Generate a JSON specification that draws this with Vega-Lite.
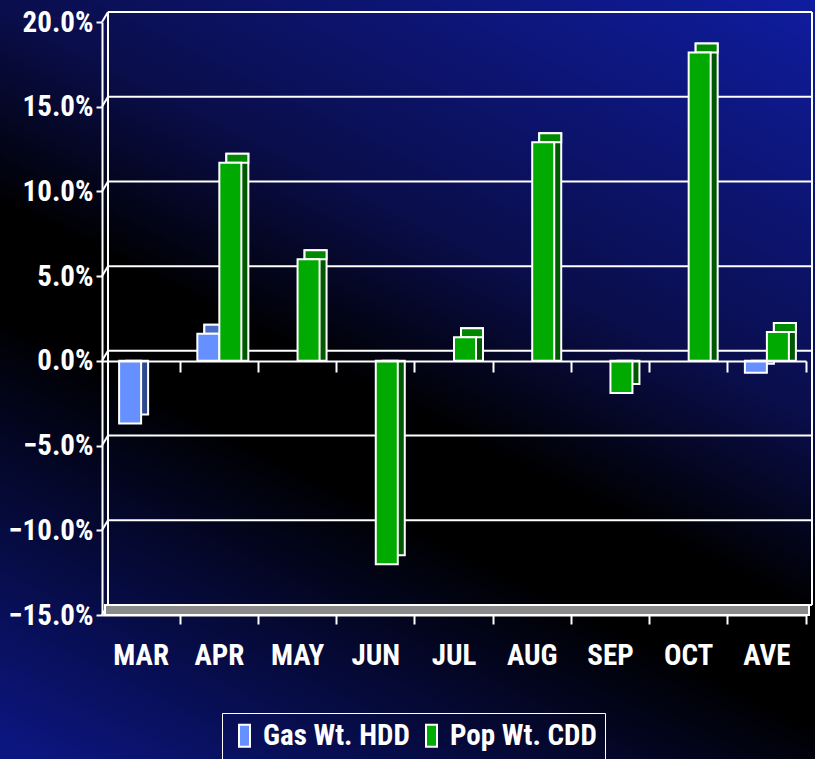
{
  "$schema": "https://vega.github.io/schema/vega-lite/v6.json",
  "width": 815,
  "height": 759,
  "autosize": {"type": "none"},
  "padding": 0,
  "background": "#000000",
  "datasets": {
    "bars": [
      {"month": "MAR", "series": "Gas Wt. HDD", "value": -3.7},
      {"month": "APR", "series": "Gas Wt. HDD", "value": 1.6},
      {"month": "AVE", "series": "Gas Wt. HDD", "value": -0.7},
      {"month": "APR", "series": "Pop Wt. CDD", "value": 11.7},
      {"month": "MAY", "series": "Pop Wt. CDD", "value": 6.0},
      {"month": "JUN", "series": "Pop Wt. CDD", "value": -12.0},
      {"month": "JUL", "series": "Pop Wt. CDD", "value": 1.4},
      {"month": "AUG", "series": "Pop Wt. CDD", "value": 12.9},
      {"month": "SEP", "series": "Pop Wt. CDD", "value": -1.9},
      {"month": "OCT", "series": "Pop Wt. CDD", "value": 18.2},
      {"month": "AVE", "series": "Pop Wt. CDD", "value": 1.7}
    ],
    "grid": [{"v": -15}, {"v": -10}, {"v": -5}, {"v": 0}, {"v": 5}, {"v": 10}, {"v": 15}, {"v": 20}],
    "edges": [{"side": 0}, {"side": 1}]
  },
  "layer": [
    {
      "data": {"values": [{}]},
      "mark": {"type": "rect", "color": {"gradient": "linear", "x1": 0.43, "y1": -0.47, "x2": -0.31, "y2": 0.9, "stops": [{"offset": 0, "color": "#1222b0"}, {"offset": 0.06, "color": "#101ea8"}, {"offset": 0.4, "color": "#0a0e4c"}, {"offset": 0.55, "color": "#000000"}, {"offset": 0.63, "color": "#000000"}, {"offset": 0.95, "color": "#0c1680"}, {"offset": 1, "color": "#0d1888"}]}},
      "encoding": {}
    },
    {
      "data": {"name": "grid"},
      "mark": {"type": "rule", "color": "white", "strokeWidth": 2, "xOffset": 6, "x2Offset": 6, "yOffset": -10},
      "encoding": {
        "x": {"datum": 0, "type": "quantitative", "scale": {"domain": [0, 1], "range": [102, 806]}, "axis": null},
        "x2": {"datum": 1},
        "y": {
          "field": "v", "type": "quantitative",
          "scale": {"domain": [-15, 20], "range": [615, 22], "nice": false, "zero": false},
          "axis": {
            "orient": "left", "offset": -102, "values": [-15, -10, -5, 0, 5, 10, 15, 20],
            "labelExpr": "format(datum.value, '.1f') + '%'", "title": null, "grid": false,
            "domain": true, "domainColor": "white", "domainWidth": 2, "ticks": true, "tickColor": "white", "tickWidth": 2, "tickSize": 6,
            "labelColor": "white", "labelFontSize": 29, "labelFontWeight": "bold",
            "labelFont": "Roboto Condensed, Noto Sans Condensed, Liberation Sans Narrow, Arial Narrow, Liberation Sans, sans-serif",
            "labelPadding": 3, "labelOverlap": false, "zindex": 1
          }
        }
      }
    },
    {
      "data": {"name": "grid"},
      "mark": {"type": "rule", "color": "white", "strokeWidth": 2, "x2Offset": 6, "y2Offset": -10},
      "encoding": {
        "x": {"datum": 0, "type": "quantitative", "scale": {"domain": [0, 1], "range": [102, 806]}, "axis": null},
        "x2": {"datum": 0},
        "y": {"field": "v", "type": "quantitative"},
        "y2": {"field": "v"}
      }
    },
    {
      "data": {"name": "edges"},
      "mark": {"type": "rule", "color": "white", "strokeWidth": 2, "xOffset": 6, "yOffset": -10, "y2Offset": -10},
      "encoding": {
        "x": {"field": "side", "type": "quantitative", "scale": {"domain": [0, 1], "range": [102, 806]}, "axis": null},
        "y": {"datum": -15, "type": "quantitative"},
        "y2": {"datum": 20}
      }
    },
    {
      "data": {"values": [{}]},
      "mark": {"type": "rect", "fill": "#8a8a8a", "stroke": "white", "strokeWidth": 2, "xOffset": 3, "x2Offset": 3, "y2Offset": -10},
      "encoding": {
        "x": {"datum": 0, "type": "quantitative", "scale": {"domain": [0, 1], "range": [102, 806]}, "axis": null},
        "x2": {"datum": 1},
        "y": {"datum": -15, "type": "quantitative"},
        "y2": {"datum": -15}
      }
    },
    {
      "data": {"name": "bars"},
      "transform": [{"filter": "datum.series === 'Gas Wt. HDD'"}],
      "mark": {"type": "bar", "color": "#2d4a8e", "stroke": "white", "strokeWidth": 2, "width": 22, "xOffset": -4, "yOffset": -9, "y2Offset": -9},
      "encoding": {
        "x": {
          "field": "month", "type": "nominal",
          "scale": {"domain": ["MAR", "APR", "MAY", "JUN", "JUL", "AUG", "SEP", "OCT", "AVE"], "range": [102, 806], "paddingInner": 0, "paddingOuter": 0},
          "axis": {"orient": "bottom", "offset": -398, "bandPosition": 1, "labels": false, "domain": true, "domainColor": "white", "domainWidth": 2, "ticks": true, "tickColor": "white", "tickWidth": 2, "tickSize": 11, "title": null, "grid": false, "zindex": 1}
        },
        "y": {"field": "value", "type": "quantitative", "stack": null}
      }
    },
    {
      "data": {"name": "bars"},
      "transform": [{"filter": "datum.series === 'Pop Wt. CDD'"}],
      "mark": {"type": "bar", "color": "#005800", "stroke": "white", "strokeWidth": 2, "width": 22, "xOffset": 18, "yOffset": -9, "y2Offset": -9},
      "encoding": {
        "x": {
          "field": "month", "type": "nominal",
          "scale": {"domain": ["MAR", "APR", "MAY", "JUN", "JUL", "AUG", "SEP", "OCT", "AVE"], "range": [102, 806], "paddingInner": 0, "paddingOuter": 0},
          "axis": null
        },
        "y": {"field": "value", "type": "quantitative", "stack": null}
      }
    },
    {
      "data": {"name": "bars"},
      "transform": [{"filter": "datum.series === 'Gas Wt. HDD' && datum.value > 0"}],
      "mark": {"type": "bar", "color": "#4a6ec8", "stroke": "white", "strokeWidth": 2, "width": 22, "xOffset": -4, "yOffset": -9, "y2Offset": 0},
      "encoding": {
        "x": {
          "field": "month", "type": "nominal",
          "scale": {"domain": ["MAR", "APR", "MAY", "JUN", "JUL", "AUG", "SEP", "OCT", "AVE"], "range": [102, 806], "paddingInner": 0, "paddingOuter": 0},
          "axis": null
        },
        "y": {"field": "value", "type": "quantitative", "stack": null},
        "y2": {"field": "value"}
      }
    },
    {
      "data": {"name": "bars"},
      "transform": [{"filter": "datum.series === 'Pop Wt. CDD' && datum.value > 0"}],
      "mark": {"type": "bar", "color": "#008800", "stroke": "white", "strokeWidth": 2, "width": 22, "xOffset": 18, "yOffset": -9, "y2Offset": 0},
      "encoding": {
        "x": {
          "field": "month", "type": "nominal",
          "scale": {"domain": ["MAR", "APR", "MAY", "JUN", "JUL", "AUG", "SEP", "OCT", "AVE"], "range": [102, 806], "paddingInner": 0, "paddingOuter": 0},
          "axis": null
        },
        "y": {"field": "value", "type": "quantitative", "stack": null},
        "y2": {"field": "value"}
      }
    },
    {
      "data": {"name": "bars"},
      "transform": [{"filter": "datum.series === 'Gas Wt. HDD'"}],
      "mark": {"type": "bar", "stroke": "white", "strokeWidth": 2, "width": 22, "xOffset": -11, "opacity": 1},
      "encoding": {
        "x": {
          "field": "month", "type": "nominal",
          "scale": {"domain": ["MAR", "APR", "MAY", "JUN", "JUL", "AUG", "SEP", "OCT", "AVE"], "range": [102, 806], "paddingInner": 0, "paddingOuter": 0},
          "axis": {"orient": "bottom", "offset": -144, "labels": true, "ticks": false, "tickSize": 0, "domain": true, "domainColor": "white", "domainWidth": 2, "title": null, "grid": false, "labelColor": "white", "labelFontSize": 29, "labelFontWeight": "bold", "labelFont": "Roboto Condensed, Noto Sans Condensed, Liberation Sans Narrow, Arial Narrow, Liberation Sans, sans-serif", "labelPadding": 26, "labelAngle": 0, "zindex": 1}
        },
        "y": {"field": "value", "type": "quantitative", "stack": null},
        "color": {
          "field": "series", "type": "nominal",
          "scale": {"domain": ["Gas Wt. HDD", "Pop Wt. CDD"], "range": ["#6690ff", "#00aa00"]},
          "legend": {
            "orient": "none", "legendX": 222, "legendY": 713, "direction": "horizontal", "title": null,
            "symbolType": "M-0.5,-1L0.5,-1L0.5,1L-0.5,1Z", "symbolSize": 484,
            "symbolStrokeColor": "white", "symbolStrokeWidth": 2, "symbolOpacity": 1,
            "labelColor": "white", "labelFontSize": 29, "labelFontWeight": "bold",
            "labelFont": "Roboto Condensed, Noto Sans Condensed, Liberation Sans Narrow, Arial Narrow, Liberation Sans, sans-serif",
            "labelLimit": 400, "labelOffset": 4, "columnPadding": 7, "padding": 8,
            "strokeColor": "white"
          }
        }
      }
    },
    {
      "data": {"name": "bars"},
      "transform": [{"filter": "datum.series === 'Pop Wt. CDD'"}],
      "mark": {"type": "bar", "stroke": "white", "strokeWidth": 2, "width": 22, "xOffset": 11, "opacity": 1},
      "encoding": {
        "x": {
          "field": "month", "type": "nominal",
          "scale": {"domain": ["MAR", "APR", "MAY", "JUN", "JUL", "AUG", "SEP", "OCT", "AVE"], "range": [102, 806], "paddingInner": 0, "paddingOuter": 0},
          "axis": {"orient": "bottom", "offset": -144, "bandPosition": 1, "labels": false, "domain": false, "ticks": true, "tickColor": "white", "tickWidth": 2, "tickSize": 9, "title": null, "grid": false, "zindex": 1}
        },
        "y": {"field": "value", "type": "quantitative", "stack": null},
        "color": {"field": "series", "type": "nominal"}
      }
    }
  ],
  "resolve": {"scale": {"x": "independent"}},
  "config": {"view": {"stroke": null}}
}
